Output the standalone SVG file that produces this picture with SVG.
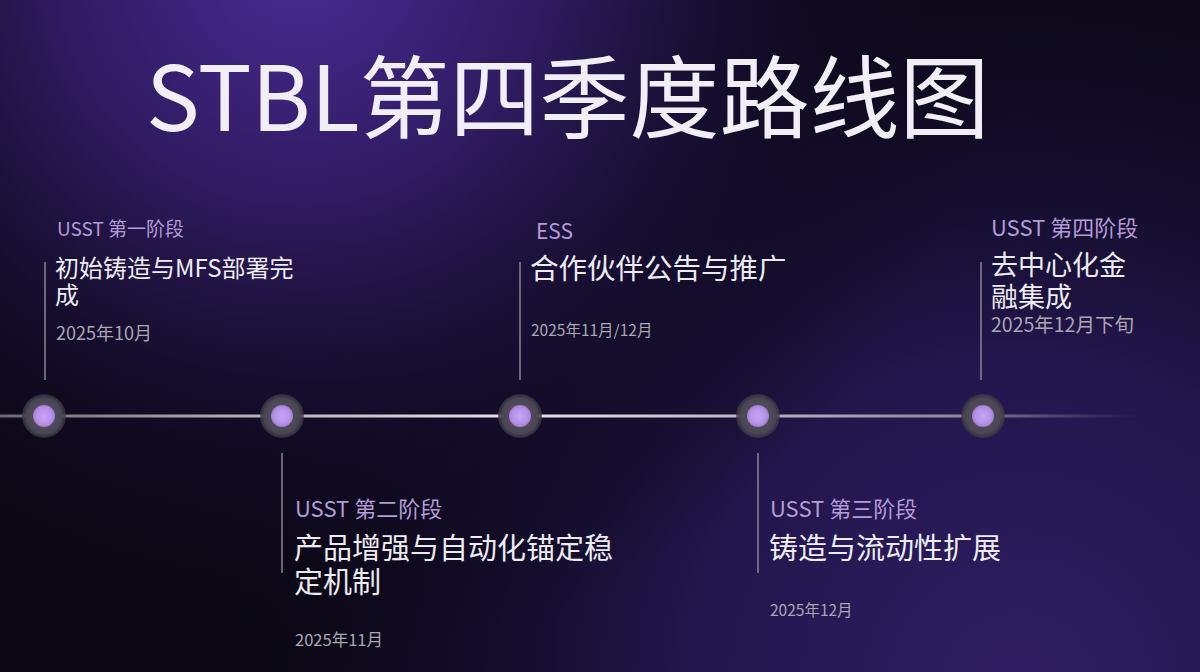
<svg xmlns="http://www.w3.org/2000/svg" width="1200" height="672" viewBox="0 0 1200 672">
  <defs>
    <radialGradient id="glowTL" cx="300" cy="-40" r="700" gradientUnits="userSpaceOnUse">
      <stop offset="0" stop-color="#4a2b94"/>
      <stop offset="0.35" stop-color="#2e1b60"/>
      <stop offset="0.7" stop-color="#150d2c" stop-opacity="0.6"/>
      <stop offset="1" stop-color="#0c0818" stop-opacity="0"/>
    </radialGradient>
    <radialGradient id="glowBR" cx="1020" cy="690" r="820" gradientUnits="userSpaceOnUse">
      <stop offset="0" stop-color="#2e1e62"/>
      <stop offset="0.4" stop-color="#241750" stop-opacity="0.95"/>
      <stop offset="0.75" stop-color="#150e30" stop-opacity="0.5"/>
      <stop offset="1" stop-color="#0c0818" stop-opacity="0"/>
    </radialGradient>
    <linearGradient id="timeline" x1="0" y1="0" x2="1140" y2="0" gradientUnits="userSpaceOnUse">
      <stop offset="0" stop-color="#6a6870"/>
      <stop offset="0.2" stop-color="#b0aeb4"/>
      <stop offset="0.45" stop-color="#e6e4ea"/>
      <stop offset="0.6" stop-color="#c8c6cc"/>
      <stop offset="0.85" stop-color="#8a8692"/>
      <stop offset="1" stop-color="#6a6672" stop-opacity="0"/>
    </linearGradient>
    <radialGradient id="outer">
      <stop offset="0" stop-color="#5a5462"/>
      <stop offset="0.8" stop-color="#4a4552"/>
      <stop offset="1" stop-color="#3a3642" stop-opacity="0.7"/>
    </radialGradient>
    <radialGradient id="inner">
      <stop offset="0" stop-color="#c9a6f6"/>
      <stop offset="0.8" stop-color="#b48ee6"/>
      <stop offset="1" stop-color="#9c7ad0"/>
    </radialGradient>
    <style>
      text { font-family: "Noto Sans CJK SC", "Noto Sans", sans-serif; }
      .title { fill: #f2eef6; font-size: 90px; font-weight: 400; }
      .phase { fill: #b39bd6; }
      .main { fill: #ececf0; }
      .date { fill: #aaa6b2; }
      .stem { stroke: #8a8692; stroke-width: 1.5; fill: none; }
      .halo { fill: url(#outer); }
      .dot { fill: url(#inner); }
    </style>
  </defs>

  <rect width="1200" height="672" fill="#0a0712"/>
  <rect width="1200" height="672" fill="url(#glowBR)"/>
  <rect width="1200" height="672" fill="url(#glowTL)"/>

  <text class="title" x="146" y="131">STBL第四季度路线图</text>

  <g id="connectors">
    <rect x="0" y="414.5" width="1140" height="3" fill="url(#timeline)"/>
    <line class="stem" x1="45" y1="262" x2="45" y2="380"/>
    <line class="stem" x1="282" y1="453" x2="282" y2="573"/>
    <line class="stem" x1="520" y1="262" x2="520" y2="380"/>
    <line class="stem" x1="758" y1="453" x2="758" y2="573"/>
    <line class="stem" x1="981" y1="262" x2="981" y2="380"/>
  </g>

  <g id="node1">
    <circle class="halo" cx="44" cy="416" r="22"/>
    <circle class="dot" cx="44" cy="416" r="11"/>
    <text class="phase" x="57" y="236" font-size="19">USST 第一阶段</text>
    <text class="main" x="55" y="277" font-size="24">初始铸造与MFS部署完</text>
    <text class="main" x="55" y="304" font-size="24">成</text>
    <text class="date" x="56" y="340" font-size="18">2025年10月</text>
  </g>

  <g id="node2">
    <circle class="halo" cx="282" cy="416" r="22"/>
    <circle class="dot" cx="282" cy="416" r="11"/>
    <text class="phase" x="295" y="517" font-size="22">USST 第二阶段</text>
    <text class="main" x="294" y="559" font-size="29">产品增强与自动化锚定稳</text>
    <text class="main" x="294" y="593" font-size="29">定机制</text>
    <text class="date" x="295" y="646" font-size="16.5">2025年11月</text>
  </g>

  <g id="node3">
    <circle class="halo" cx="520" cy="416" r="22"/>
    <circle class="dot" cx="520" cy="416" r="11"/>
    <text class="phase" x="536" y="239" font-size="21">ESS</text>
    <text class="main" x="530" y="279" font-size="28.5">合作伙伴公告与推广</text>
    <text class="date" x="531" y="336" font-size="15.5">2025年11月/12月</text>
  </g>

  <g id="node4">
    <circle class="halo" cx="758" cy="416" r="22"/>
    <circle class="dot" cx="758" cy="416" r="11"/>
    <text class="phase" x="770" y="517" font-size="22">USST 第三阶段</text>
    <text class="main" x="769" y="559" font-size="29">铸造与流动性扩展</text>
    <text class="date" x="770" y="616" font-size="15.5">2025年12月</text>
  </g>

  <g id="node5">
    <circle class="halo" cx="983" cy="416" r="22"/>
    <circle class="dot" cx="983" cy="416" r="11"/>
    <text class="phase" x="991" y="236" font-size="22">USST 第四阶段</text>
    <text class="main" x="991" y="275" font-size="27">去中心化金</text>
    <text class="main" x="991" y="307" font-size="27">融集成</text>
    <text class="date" x="991" y="332" font-size="19.5">2025年12月下旬</text>
  </g>
</svg>
